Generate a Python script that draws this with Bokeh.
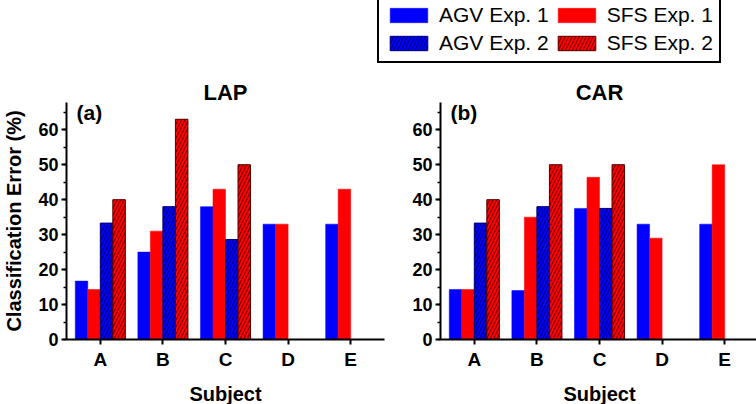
from bokeh.plotting import figure
from bokeh.models import Range1d, FixedTicker, SingleIntervalTicker, Legend, LegendItem, Label
from bokeh.layouts import column, row
from bokeh.embed import file_html
from bokeh.resources import INLINE

# ---------------- data ----------------
subjects = ["A", "B", "C", "D", "E"]
series_names = ["AGV Exp. 1", "SFS Exp. 1", "AGV Exp. 2", "SFS Exp. 2"]

lap_agv_exp1 = [16.7, 25.0, 38.0, 33.0, 33.0]
lap_sfs_exp1 = [14.3, 31.0, 43.0, 33.0, 43.0]
lap_agv_exp2 = [33.3, 38.0, 28.6, None, None]
lap_sfs_exp2 = [40.0, 63.0, 50.0, None, None]

car_agv_exp1 = [14.3, 14.0, 37.5, 33.0, 33.0]
car_sfs_exp1 = [14.3, 35.0, 46.4, 29.0, 50.0]
car_agv_exp2 = [33.3, 38.0, 37.5, None, None]
car_sfs_exp2 = [40.0, 50.0, 50.0, None, None]

# ---------------- styles ----------------
FONT = "Liberation Sans"
BLUE = "#0000FF"
RED = "#FF0000"
styles = [
    dict(fill_color=BLUE, line_color=BLUE, line_width=0.5),
    dict(fill_color=RED, line_color=RED, line_width=0.5),
    dict(fill_color=BLUE, line_color="#000070", line_width=1,
         hatch_pattern="/", hatch_color="#000060", hatch_scale=7, hatch_weight=1),
    dict(fill_color=RED, line_color="#500000", line_width=1,
         hatch_pattern="/", hatch_color="#600000", hatch_scale=7, hatch_weight=1),
]
offsets = [-0.3, -0.1, 0.1, 0.3]
BAR_W = 0.2


def make_panel(title, tag, series, show_ylabel, border_left, border_right):
    p = figure(output_backend="svg", toolbar_location=None,
               frame_width=318, frame_height=237,
               min_border_left=border_left, min_border_right=border_right,
               min_border_top=38, min_border_bottom=65,
               x_range=Range1d(0.46, 5.54), y_range=Range1d(0, 67.8))
    p.outline_line_color = None
    p.grid.visible = False
    p.background_fill_color = "white"

    for vals, off, st in zip(series, offsets, styles):
        xs = [i + 1 + off for i, v in enumerate(vals) if v is not None]
        tops = [v for v in vals if v is not None]
        p.vbar(x=xs, top=tops, bottom=0, width=BAR_W, **st)

    p.title.text = title
    p.title.align = "center"
    p.title.text_font = FONT
    p.title.text_font_size = "22px"
    p.title.text_font_style = "bold"
    p.title.text_color = "black"
    p.title.standoff = -4

    xa = p.xaxis[0]
    xa.ticker = FixedTicker(ticks=[i + 1 for i in range(len(subjects))])
    xa.major_label_overrides = {i + 1: s for i, s in enumerate(subjects)}
    xa.axis_label = "Subject"
    xa.axis_label_standoff = 10

    ya = p.yaxis[0]
    ya.ticker = SingleIntervalTicker(interval=10, num_minor_ticks=2)
    if show_ylabel:
        ya.axis_label = "Classification Error (%)"
        ya.axis_label_standoff = 10

    for ax in (xa, ya):
        ax.axis_line_width = 2
        ax.axis_line_color = "black"
        ax.major_tick_line_width = 2
        ax.major_tick_out = 5
        ax.major_tick_in = 0
        ax.minor_tick_line_width = 1.5
        ax.minor_tick_out = 3
        ax.minor_tick_in = 0
        ax.major_label_text_font = FONT
        ax.major_label_text_font_style = "bold"
        ax.major_label_text_color = "black"
        ax.axis_label_text_font = FONT
        ax.axis_label_text_font_style = "bold"
        ax.axis_label_text_font_size = "20px"
        ax.axis_label_text_color = "black"
    xa.major_label_text_font_size = "19px"
    xa.major_label_standoff = 4
    ya.major_label_text_font_size = "18px"
    ya.major_label_standoff = 3

    p.add_layout(Label(x=0.62, y=64.8, text=tag, text_font=FONT,
                       text_font_size="21px", text_font_style="bold",
                       text_color="black",
                       text_baseline="middle", text_align="left"))
    return p


left = make_panel("LAP", "(a)", [lap_agv_exp1, lap_sfs_exp1, lap_agv_exp2, lap_sfs_exp2],
                  True, 63, 6)
right = make_panel("CAR", "(b)", [car_agv_exp1, car_sfs_exp1, car_agv_exp2, car_sfs_exp2],
                   False, 50, 1)

# ---------------- legend strip ----------------
lf = figure(output_backend="svg", toolbar_location=None, width=756, height=64,
            min_border=0, x_range=Range1d(0, 1), y_range=Range1d(0, 1),
            x_axis_location=None, y_axis_location=None)
lf.outline_line_color = None
lf.grid.visible = False
# one off-screen bar per series, only so that the legend has a swatch to draw
rends = [lf.vbar(x=[-10], top=[-10], bottom=-20, width=0.1, **st) for st in styles]
order = [0, 2, 1, 3]
items = [LegendItem(label=series_names[k], renderers=[rends[k]]) for k in order]
legend = Legend(items=items, location=(377, 1), orientation="vertical", ncols=2,
                glyph_width=47, glyph_height=18, label_standoff=7,
                spacing=4, padding=6, margin=0,
                label_text_font=FONT, label_text_font_size="21px",
                label_text_color="black",
                border_line_color="black", border_line_width=2, border_line_alpha=1,
                background_fill_color="white", background_fill_alpha=1)
lf.add_layout(legend)

layout = column(lf, row(left, right))
open("out.html", "w").write(file_html(layout, INLINE))
